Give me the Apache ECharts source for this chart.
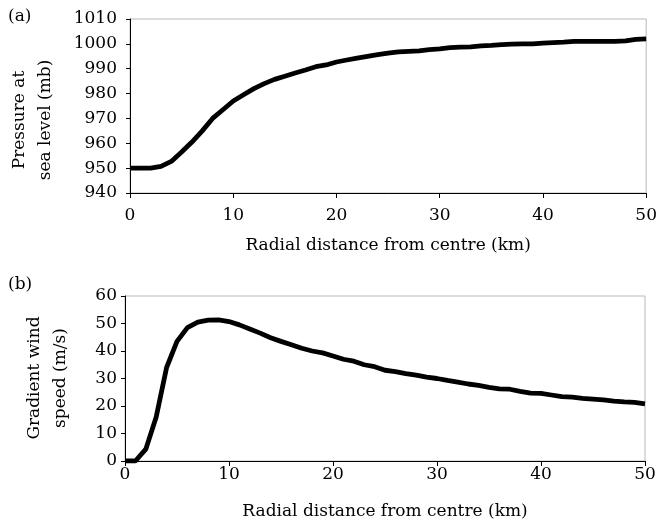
<!DOCTYPE html>
<html>
<head>
<meta charset="utf-8">
<script src="https://cdn.jsdelivr.net/npm/echarts@6/dist/echarts.min.js"></script>
<style>html,body{margin:0;padding:0;background:#fff}#c{width:660px;height:525px}</style>
</head>
<body>
<div id="c"></div>
<script>
// Radial distance from centre (km)
var distanceKm = [0,1,2,3,4,5,6,7,8,9,10,11,12,13,14,15,16,17,18,19,20,21,22,23,24,25,26,27,28,29,30,31,32,33,34,35,36,37,38,39,40,41,42,43,44,45,46,47,48,49,50];
// (a) Pressure at sea level (mb)
var pressureMb = [950,950,950,950.7,952.7,956.5,960.5,965,970,973.5,977,979.5,982,984,985.7,987,988.3,989.5,990.8,991.5,992.7,993.5,994.3,995,995.7,996.3,996.8,997,997.2,997.7,998,998.5,998.7,998.8,999.2,999.4,999.7,999.9,1000,1000,1000.3,1000.5,1000.7,1001,1001,1001,1001,1001,1001.2,1001.8,1002];
// (b) Gradient wind speed (m/s)
var windSpeed = [0,0,4.3,16,34,43.5,48.5,50.5,51.2,51.3,50.7,49.5,48,46.5,44.8,43.5,42.3,41,40,39.3,38.2,37,36.3,35,34.3,33,32.5,31.8,31.2,30.5,30,29.3,28.7,28,27.5,26.8,26.2,26.1,25.3,24.7,24.6,24,23.4,23.2,22.8,22.5,22.2,21.8,21.5,21.3,20.8];
var xTicks = [0,10,20,30,40,50];
var pressureTicks = [940,950,960,970,980,990,1000,1010];
var windTicks = [0,10,20,30,40,50,60];
var xTitle = 'Radial distance from centre (km)';
var yTitleA = 'Pressure at\nsea level (mb)';
var yTitleB = 'Gradient wind\nspeed (m/s)';

var FONT = 'DejaVu Serif';
var chart = echarts.init(document.getElementById('c'), null, {renderer: 'canvas'});

function pairs(xs, ys) { return xs.map(function (x, i) { return [x, ys[i]]; }); }
function plain(v) { return String(v); }

function xAxisCfg(gridIndex, labelMargin, nameGap) {
  return {
    type: 'value', gridIndex: gridIndex, min: xTicks[0], max: xTicks[xTicks.length - 1], interval: 10,
    name: xTitle, nameLocation: 'middle', nameGap: nameGap,
    nameTextStyle: {fontFamily: FONT, fontSize: 17, color: '#000'},
    axisLine: {show: true, lineStyle: {color: '#000', width: 1}},
    axisTick: {show: true, inside: false, length: 5, lineStyle: {color: '#000'}},
    axisLabel: {fontFamily: FONT, fontSize: 17, color: '#000', margin: labelMargin, formatter: plain},
    splitLine: {show: false}
  };
}
function yAxisCfg(gridIndex, ticks, labelMargin) {
  return {
    type: 'value', gridIndex: gridIndex, min: ticks[0], max: ticks[ticks.length - 1], interval: 10,
    axisLine: {show: true, lineStyle: {color: '#000', width: 1}},
    axisTick: {show: true, inside: false, length: 4, lineStyle: {color: '#000'}},
    axisLabel: {fontFamily: FONT, fontSize: 17, color: '#000', margin: labelMargin, formatter: plain},
    splitLine: {show: false}
  };
}

chart.setOption({
  animation: false,
  backgroundColor: '#fff',
  grid: [
    {left: 130, right: 10, top: 19, height: 174, show: true, borderColor: '#b8b8b8', borderWidth: 1, backgroundColor: 'transparent'},
    {left: 125, right: 15, top: 296, height: 165, show: true, borderColor: '#b8b8b8', borderWidth: 1, backgroundColor: 'transparent'}
  ],
  xAxis: [xAxisCfg(0, 14, 44), xAxisCfg(1, 5, 42)],
  yAxis: [yAxisCfg(0, pressureTicks, 13), yAxisCfg(1, windTicks, 8)],
  series: [
    {type: 'line', xAxisIndex: 0, yAxisIndex: 0, data: pairs(distanceKm, pressureMb), showSymbol: false, smooth: false,
     lineStyle: {color: '#000', width: 4.8}},
    {type: 'line', xAxisIndex: 1, yAxisIndex: 1, data: pairs(distanceKm, windSpeed), showSymbol: false, smooth: false,
     lineStyle: {color: '#000', width: 4.8}}
  ],
  graphic: [
    {type: 'text', left: 8, top: 8, style: {text: '(a)', fontFamily: FONT, fontSize: 17, fill: '#000'}},
    {type: 'text', left: 8, top: 276, style: {text: '(b)', fontFamily: FONT, fontSize: 17, fill: '#000'}},
    {type: 'text', x: 33, y: 120, rotation: Math.PI / 2,
     style: {text: yTitleA, fontFamily: FONT, fontSize: 17, fill: '#000', align: 'center', verticalAlign: 'middle', lineHeight: 26}},
    {type: 'text', x: 48, y: 378, rotation: Math.PI / 2,
     style: {text: yTitleB, fontFamily: FONT, fontSize: 17, fill: '#000', align: 'center', verticalAlign: 'middle', lineHeight: 26}}
  ]
});
</script>
</body>
</html>
